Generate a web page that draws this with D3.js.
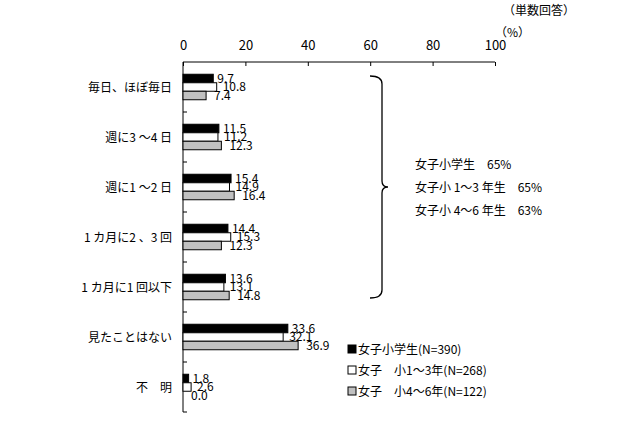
<!DOCTYPE html><html><head><meta charset="utf-8"><script src="https://d3js.org/d3.v7.min.js"></script>
<style>body{margin:0;background:#fff}text{font-family:"Noto Sans CJK JP",sans-serif}</style></head><body><svg width="640" height="426"></svg>
<script>
const categories=["毎日、ほぼ毎日","週に3 ～4 日","週に1 ～2 日","1 カ月に2 、3 回","1 カ月に1 回以下","見たことはない","不　明"];
const seriesNames=["女子小学生(N=390)","女子　小1～3年(N=268)","女子　小4～6年(N=122)"];
const s1=[9.7,11.5,15.4,14.4,13.6,33.6,1.8];
const s2=[10.8,11.2,14.9,15.3,13.1,32.1,2.6];
const s3=[7.4,12.3,16.4,12.3,14.8,36.9,0.0];
const ticks=[0,20,40,60,80,100];
const fills=["#000","#fff","#c0c0c0"];
const svg=d3.select("svg");
const x=d3.scaleLinear().domain([0,100]).range([183,495]);
const y=d3.scaleBand().domain(categories).range([62,412]);
const ax=svg.append("g").attr("transform","translate(0,62)").call(d3.axisTop(x).tickValues(ticks).tickSize(-4).tickPadding(12));
ax.select(".domain").attr("d","M183,0H495");
ax.selectAll("text").attr("font-size",13).attr("font-family","Arial,Liberation Sans");
svg.append("line").attr("x1",183).attr("x2",183).attr("y1",62).attr("y2",412).attr("stroke","#000");
categories.forEach((c,i)=>{if(i>0)svg.append("line").attr("x1",183).attr("x2",187).attr("y1",y(c)).attr("y2",y(c)).attr("stroke","#000");});
svg.append("line").attr("x1",183).attr("x2",187).attr("y1",412).attr("y2",412).attr("stroke","#000");
const data=[s1,s2,s3];const bh=8.5;
categories.forEach((c,i)=>{
 const cy=y(c)+y.bandwidth()/2;
 svg.append("text").attr("x",172).attr("y",cy+5).attr("text-anchor","end").attr("font-size",12).text(c);
 data.forEach((s,k)=>{
  const yy=cy-bh*1.5+k*bh;
  svg.append("rect").attr("x",x(0)).attr("y",yy).attr("width",x(s[i])-x(0)).attr("height",bh).attr("fill",fills[k]).attr("stroke","#000").attr("stroke-width",1);
  svg.append("text").attr("x",x(s[i])+4+k*2).attr("y",yy+bh).attr("font-size",12).attr("font-family","Arial,Liberation Sans").text(s[i].toFixed(1));
 });
});
svg.append("text").attr("x",575).attr("y",15).attr("font-size",12).attr("text-anchor","end").text("（単数回答）");
svg.append("text").attr("x",530).attr("y",37).attr("font-size",12).attr("text-anchor","end").text("（%）");
const bTop=y(categories[0])+14,bBot=y(categories[4])+y.bandwidth()-14,bMid=(bTop+bBot)/2;
svg.append("path").attr("d",`M370,${bTop}Q382,${bTop} 382,${bTop+8}V${bMid-6}Q382,${bMid} 388,${bMid}Q382,${bMid} 382,${bMid+6}V${bBot-8}Q382,${bBot} 370,${bBot}`).attr("fill","none").attr("stroke","#000").attr("stroke-width",1.3);
["女子小学生　65%","女子小 1～3 年生　65%","女子小 4～6 年生　63%"].forEach((t,i)=>svg.append("text").attr("x",415).attr("y",169+i*23).attr("font-size",12).text(t));
seriesNames.forEach((n,i)=>{
 const ly=354+i*21;
 svg.append("rect").attr("x",348).attr("y",ly-9).attr("width",8).attr("height",8).attr("fill",fills[i]).attr("stroke","#000");
 svg.append("text").attr("x",358).attr("y",ly).attr("font-size",12).text(n);
});
</script></body></html>
